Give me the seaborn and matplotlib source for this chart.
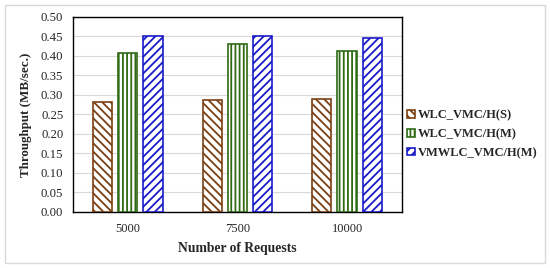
import matplotlib
matplotlib.use("Agg")
import matplotlib.pyplot as plt
import seaborn as sns
import pandas as pd
from matplotlib.patches import Rectangle

requests = ["5000", "7500", "10000"]
series = ["WLC_VMC/H(S)", "WLC_VMC/H(M)", "VMWLC_VMC/H(M)"]
wlc_s = [0.283, 0.287, 0.290]
wlc_m = [0.408, 0.431, 0.413]
vmwlc_m = [0.451, 0.451, 0.447]

edge_colors = ["#7b3f12", "#2f6a14", "#1a1ac8"]
hatches = ["\\\\\\\\", "||||", "////"]

rows = []
for name, vals in zip(series, [wlc_s, wlc_m, vmwlc_m]):
    for r, v in zip(requests, vals):
        rows.append({"Requests": r, "Series": name, "Throughput": v})
df = pd.DataFrame(rows)

sns.set_style("white")
plt.rcParams["font.family"] = ["Liberation Serif", "DejaVu Serif"]
plt.rcParams["hatch.linewidth"] = 1.3

fig = plt.figure(figsize=(5.5, 2.68), dpi=100)
ax = fig.add_axes([0.1327, 0.209, 0.598, 0.728])

sns.barplot(data=df, x="Requests", y="Throughput", hue="Series",
            order=requests, hue_order=series, width=0.69, gap=0.24,
            palette=["white"] * 3, ax=ax, legend=False, zorder=3)

for cont, col, h in zip(ax.containers, edge_colors, hatches):
    for bar in cont:
        bar.set_facecolor("white")
        bar.set_edgecolor(col)
        bar.set_hatch(h)
        bar.set_linewidth(1.2)

ax.set_ylim(0, 0.5)
ax.set_yticks([i * 0.05 for i in range(11)])
ax.set_yticklabels([f"{i * 0.05:.2f}" for i in range(11)])
ax.yaxis.grid(True, color="#d9d9d9", linewidth=0.8, zorder=0)
ax.set_axisbelow(True)
for s in ax.spines.values():
    s.set_visible(True)
    s.set_color("black")
    s.set_linewidth(1.0)
ax.tick_params(axis="y", labelsize=9.2, length=0, pad=7)
ax.tick_params(axis="x", labelsize=9, length=0, pad=8)
ax.set_xlabel("Number of Requests", fontsize=9.8, fontweight="bold", labelpad=5)
ax.set_ylabel("Throughput (MB/sec.)", fontsize=9.4, fontweight="bold", labelpad=6)

handles = [Rectangle((0, 0), 1, 1, facecolor="white", edgecolor=c, hatch=h, linewidth=1.2)
           for c, h in zip(edge_colors, hatches)]
fig.legend(handles, series, loc="center left", bbox_to_anchor=(0.72, 0.5),
           frameon=False, prop={"weight": "bold", "size": 9},
           handlelength=0.6, handleheight=0.6, handletextpad=0.25, labelspacing=0.55)

fig.patches.append(Rectangle((0.009, 0.02), 0.982, 0.96, transform=fig.transFigure,
                             fill=False, edgecolor="#d9d9d9", linewidth=1.0))

fig.savefig("out.png", dpi=100)
